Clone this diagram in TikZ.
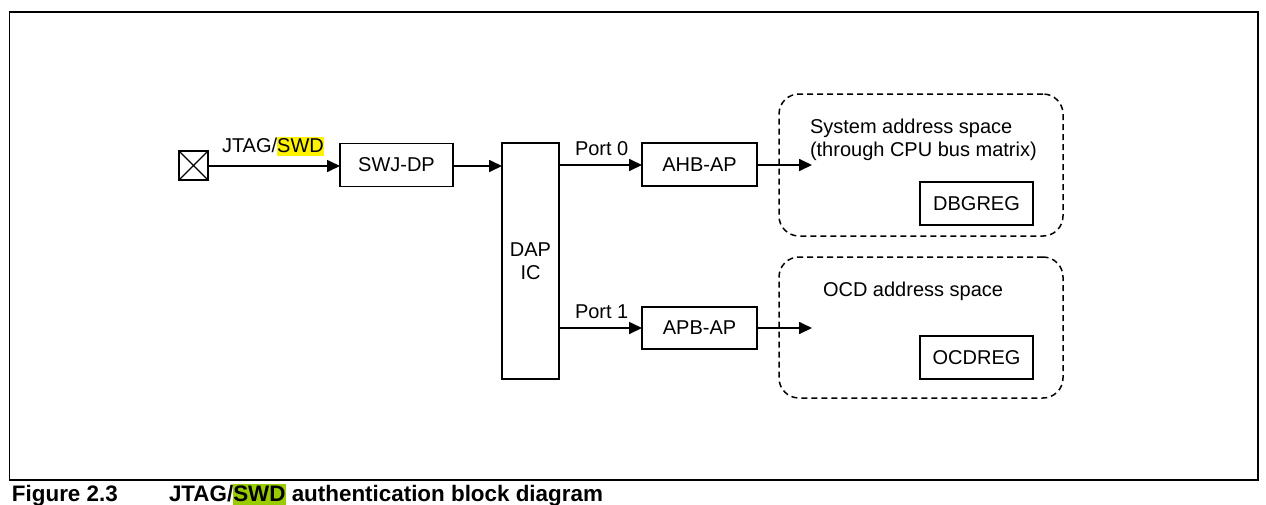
\documentclass[tikz,border=0pt]{standalone}
\usepackage{fontspec}
\setmainfont{Liberation Sans}
\usetikzlibrary{arrows.meta}
\definecolor{hlgreen}{RGB}{153,204,0}
\begin{document}
\begin{tikzpicture}[x=1pt,y=-1pt,
  every node/.style={font=\fontsize{20}{23}\selectfont, inner sep=0pt, outer sep=0pt},
  box/.style={draw, line width=1.7pt, align=center},
  conn/.style={line width=1.7pt, -{Triangle[length=13pt,width=12pt]}},
  space/.style={draw, line width=1.5pt, dash pattern=on 6pt off 4pt, rounded corners=20pt},
  lbl/.style={anchor=base west},
  captext/.style={anchor=base west, font=\fontsize{22.4}{26}\selectfont\bfseries}
]
\useasboundingbox (0,0) rectangle (1266,504);
\draw[line width=1.3pt] (9.5,12) rectangle (1258,480);

% pin
\node[box, minimum width=29pt, minimum height=29pt,
  path picture={\draw[line width=1.1pt] (path picture bounding box.north west) -- (path picture bounding box.south east)
                (path picture bounding box.north east) -- (path picture bounding box.south west);}]
  (pin) at (193.5,165.5) {};

\node[box, minimum width=113pt, minimum height=43pt] (swj) at (396.5,165) {SWJ-DP};
\node[box, minimum width=57pt, minimum height=236pt] (dap) at (530.5,261) {DAP\\IC};
\node[box, minimum width=115pt, minimum height=43pt] (ahb) at (699.5,164.5) {AHB-AP};
\node[box, minimum width=115pt, minimum height=42pt] (apb) at (699.5,328) {APB-AP};

\node[space, minimum width=284pt, minimum height=142pt] (sys) at (921,165) {};
\node[space, minimum width=284pt, minimum height=141pt] (ocd) at (921,327.5) {};
\node[box, minimum width=113pt, minimum height=43pt] (dbg) at (976.5,203.5) {DBGREG};
\node[box, minimum width=113pt, minimum height=43pt] (ocdreg) at (976.5,357.5) {OCDREG};

\node[lbl] (sysl1) at (810,133) {System address space};
\node[lbl] (sysl2) at (810,156) {(through CPU bus matrix)};
\node[lbl] (ocdl) at (823,296) {OCD address space};

\node[lbl] (jtag) at (222,152) {JTAG/{\setlength\fboxsep{0pt}\colorbox{yellow}{\rule[-4pt]{0pt}{19pt}SWD}}};
\node[lbl] (p0) at (575,155) {Port 0};
\node[lbl] (p1) at (575,318) {Port 1};

\coordinate (t0) at (812,165);
\coordinate (t1) at (812,328);

\draw[conn] (pin.east |- 0,166) -- (swj.west |- 0,166);
\draw[conn] (swj.east |- 0,166) -- (dap.west |- 0,166);
\draw[conn] (dap.east |- 0,165) -- (ahb.west |- 0,165);
\draw[conn] (dap.east |- 0,328) -- (apb.west |- 0,328);
\draw[conn] (ahb.east |- t0) -- (t0);
\draw[conn] (apb.east |- t1) -- (t1);

\node[captext] (fig) at (12,501) {Figure 2.3};
\node[captext] (title) at (169,501) {JTAG/{\setlength\fboxsep{0pt}\colorbox{hlgreen}{\rule[-5pt]{0pt}{22pt}SWD}} authentication block diagram};
\end{tikzpicture}
\end{document}
